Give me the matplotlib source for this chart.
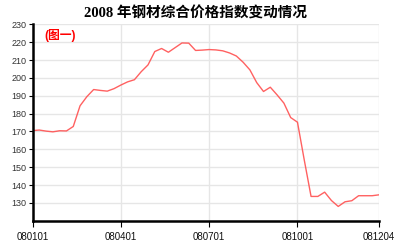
import matplotlib.pyplot as plt
import numpy as np

plt.rcParams['font.family'] = ['Liberation Sans', 'Noto Sans CJK SC']

# weekly index values, 2008
values = [170.5, 170.8, 170.2, 169.8, 170.4, 170.3, 172.8, 184.4, 189.5, 193.5,
          193.0, 192.6, 194.0, 196.0, 197.8, 199.0, 203.5, 207.3, 214.8, 216.5,
          214.4, 217.0, 219.6, 219.5, 215.4, 215.6, 215.9, 215.7, 215.2, 214.0,
          212.3, 208.8, 204.5, 197.4, 192.4, 194.8, 190.5, 185.9, 177.8, 175.2,
          154.0, 133.6, 133.6, 136.0, 131.3, 128.0, 130.6, 131.2, 134.0, 134.0,
          134.0, 134.5]
tick_pos = [0, 13, 26, 39, 51]
tick_labels = ['080101', '080401', '080701', '081001', '081204']
yticks = [130, 140, 150, 160, 170, 180, 190, 200, 210, 220, 230]

fig = plt.figure(figsize=(4.01, 2.47), dpi=100)
ax = fig.add_axes([32.5 / 401, 26.3 / 247, (379 - 32.5) / 401, (220.7 - 24.4) / 247])

x = np.arange(len(values))
ax.plot(x, values, color='#ff5050', lw=1.0, alpha=0.9)

ax.set_xlim(0, 51)
ax.set_ylim(120, 230)
ax.set_yticks(yticks)
ax.set_xticks(tick_pos)
ax.set_xticklabels(tick_labels)
ax.tick_params(axis='y', labelsize=6.5, labelcolor='#333333', length=3, width=0.8, pad=1.5)
ax.tick_params(axis='x', labelsize=7, labelcolor='#111111', length=4, width=0.8, pad=4)

ax.grid(True, color='#e6e6e6', lw=1.0)
ax.set_axisbelow(True)
for s in ['top', 'right']:
    ax.spines[s].set_visible(False)
for s in ['left', 'bottom']:
    ax.spines[s].set_linewidth(1.8)
    ax.spines[s].set_color('black')

ax.text(0.033, 0.977, '(图一)', transform=ax.transAxes, color='red',
        fontsize=8.5, fontweight='bold', va='top', ha='left',
        family=['Liberation Sans', 'Noto Sans CJK SC'])

fig.text(0.487, 0.975, '2008 年钢材综合价格指数变动情况', ha='center', va='top',
         fontsize=10.5, fontweight='bold',
         family=['Liberation Serif', 'Noto Sans CJK SC'])

fig.savefig('out.png', dpi=100)
